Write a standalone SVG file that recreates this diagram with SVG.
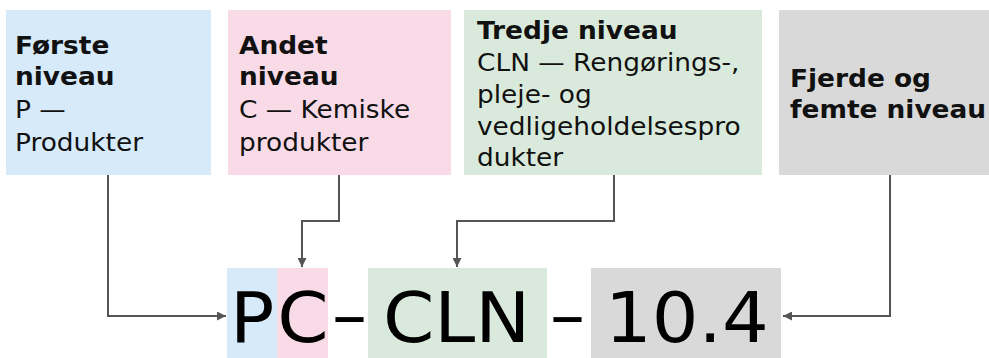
<svg xmlns="http://www.w3.org/2000/svg" width="989" height="358" viewBox="0 0 989 358">
<defs>
<style>
.lbl{font-family:"DejaVu Sans","Verdana",sans-serif;font-size:24px;fill:#111}
.b{font-weight:bold}
.big{font-family:"DejaVu Sans","Verdana",sans-serif;font-size:70px;fill:#000}
.conn{fill:none;stroke:#555;stroke-width:2}
.blue{fill:#d6eafa}
.pink{fill:#f9dbe8}
.green{fill:#d9eadc}
.gray{fill:#d9d9d9}
</style>
<marker id="arr" viewBox="0 0 10 10" refX="10" refY="5" markerWidth="9" markerHeight="9" markerUnits="userSpaceOnUse" orient="auto">
<path d="M0,0 L10,5 L0,10 z" fill="#555"/>
</marker>
</defs>
<rect width="989" height="358" fill="#fff"/>

<g id="node-level1">
<rect class="blue" x="6" y="10" width="205" height="165"/>
<text class="lbl" transform="translate(15,54) scale(1.1,1)"><tspan class="b" x="0" y="0">Første</tspan><tspan class="b" x="0" y="31.5">niveau</tspan><tspan x="0" y="64">P —</tspan><tspan x="0" y="97">Produkter</tspan></text>
</g>

<g id="node-level2">
<rect class="pink" x="228" y="10" width="223" height="165"/>
<text class="lbl" transform="translate(239,54) scale(1.1,1)"><tspan class="b" x="0" y="0">Andet</tspan><tspan class="b" x="0" y="31.5">niveau</tspan><tspan x="0" y="64">C — Kemiske</tspan><tspan x="0" y="97">produkter</tspan></text>
</g>

<g id="node-level3">
<rect class="green" x="464" y="10" width="298" height="165"/>
<text class="lbl" transform="translate(477,39) scale(1.1,1)"><tspan class="b" x="0" y="0">Tredje niveau</tspan><tspan x="0" y="32">CLN — Rengørings-,</tspan><tspan x="0" y="64">pleje- og</tspan><tspan x="0" y="96">vedligeholdelsespro</tspan><tspan x="0" y="127">dukter</tspan></text>
</g>

<g id="node-level45">
<rect class="gray" x="779" y="10" width="210" height="165"/>
<text class="lbl b" transform="translate(790,87) scale(1.1,1)"><tspan x="0" y="0">Fjerde og</tspan><tspan x="0" y="31">femte niveau</tspan></text>
</g>

<g id="node-code">
<rect class="blue" x="227" y="268" width="50" height="90"/>
<rect class="pink" x="277" y="268" width="51" height="90"/>
<rect class="green" x="368" y="268" width="179" height="90"/>
<rect class="gray" x="591" y="268" width="190" height="90"/>
<text class="big" transform="translate(230,342) scale(1.05,1)" x="0 45" y="0">PC</text>
<text class="big" x="332" y="339">–</text>
<text class="big" transform="translate(383,342) scale(1.05,1)" x="0" y="0">CLN</text>
<text class="big" x="550" y="339">–</text>
<text class="big" transform="translate(605,342) scale(1.05,1)" x="0" y="0">10.4</text>
</g>

<g id="connectors">
<polyline class="conn" points="108,175 108,316 226,316" marker-end="url(#arr)"/>
<polyline class="conn" points="339,175 339,221 302,221 302,267" marker-end="url(#arr)"/>
<polyline class="conn" points="614,175 614,221 457,221 457,267" marker-end="url(#arr)"/>
<polyline class="conn" points="890,175 890,316 783,316" marker-end="url(#arr)"/>
</g>
</svg>
